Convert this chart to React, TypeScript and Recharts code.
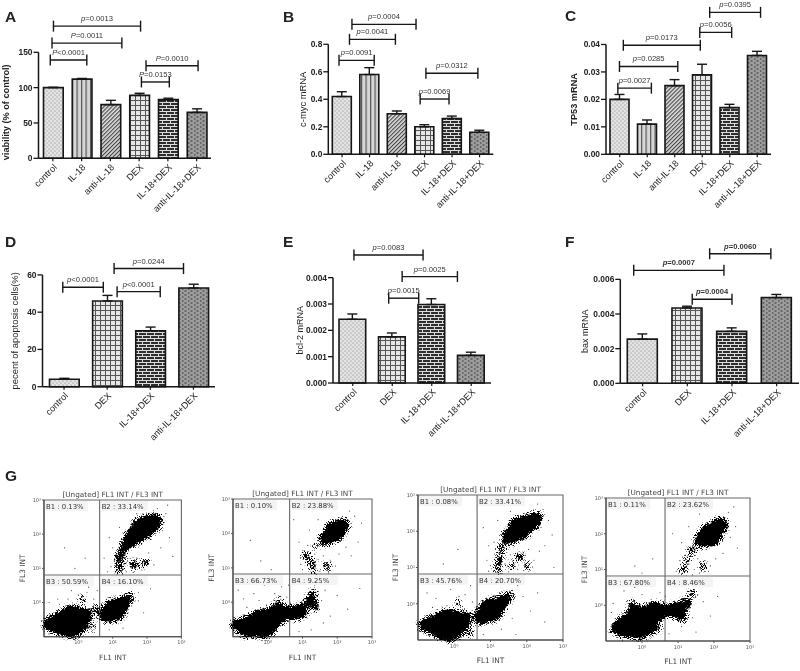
import React from "react";
import {
  Bar,
  BarChart,
  Cell,
  ErrorBar,
  ReferenceArea,
  ReferenceDot,
  ReferenceLine,
  Scatter,
  ScatterChart,
  XAxis,
  YAxis,
} from "recharts";

const FONT = "'Liberation Sans', Arial, sans-serif";
const FLOW_FONT = "'DejaVu Sans', sans-serif";
const INK = "#161616";

const patternByCategory: Record<string, string> = {
  control: "url(#dots)",
  "IL-18": "url(#stripes)",
  "anti-IL-18": "url(#diagonal)",
  DEX: "url(#grid)",
  "IL-18+DEX": "url(#brick)",
  "anti-IL-18+DEX": "url(#denseBrick)",
};

// bar panels
const sixGroups = ["control", "IL-18", "anti-IL-18", "DEX", "IL-18+DEX", "anti-IL-18+DEX"];
const fourGroups = ["control", "DEX", "IL-18+DEX", "anti-IL-18+DEX"];

const viability = [100, 112, 76, 89, 83, 65];
const viabilityErr = [0.5, 1, 6, 3, 2, 5];
const viabilityTicks = [0, 50, 100, 150];
const viabilityBrackets = [
  { from: 0.02, to: 3.05, y: 187, text: "=0.0013", p: "p" },
  { from: -0.03, to: 2.4, y: 163, text: "=0.0011", p: "P" },
  { from: -0.09, to: 1.18, y: 139, text: "<0.0001", p: "P" },
  { from: 3.24, to: 5.05, y: 131, text: "=0.0010", p: "P" },
  { from: 3.08, to: 4.05, y: 108, text: "=0.0153", p: "P" },
];

const cmyc = [0.42, 0.58, 0.295, 0.2, 0.26, 0.16];
const cmycErr = [0.035, 0.05, 0.02, 0.015, 0.018, 0.015];
const cmycTicks = [0, 0.2, 0.4, 0.6, 0.8];
const cmycBrackets = [
  { from: 0.36, to: 2.69, y: 0.945, text: "=0.0004", p: "p" },
  { from: 0.27, to: 1.94, y: 0.836, text: "=0.0041", p: "p" },
  { from: -0.11, to: 1.17, y: 0.683, text: "=0.0091", p: "p" },
  { from: 3.05, to: 4.94, y: 0.589, text: "=0.0312", p: "p" },
  { from: 2.84, to: 3.89, y: 0.402, text: "=0.0069", p: "p" },
];

const tp53 = [0.02, 0.011, 0.025, 0.029, 0.017, 0.036];
const tp53Err = [0.0018, 0.0015, 0.0022, 0.0038, 0.0012, 0.0015];
const tp53Ticks = [0, 0.01, 0.02, 0.03, 0.04];
const tp53Brackets = [
  { from: 3.27, to: 5.12, y: 0.0517, text: "=0.0395", p: "p" },
  { from: 2.91, to: 4.07, y: 0.0444, text: "=0.0056", p: "p" },
  { from: 0.13, to: 2.93, y: 0.0397, text: "=0.0173", p: "p" },
  { from: -0.01, to: 2.11, y: 0.032, text: "=0.0285", p: "p" },
  { from: -0.07, to: 1.15, y: 0.0241, text: "=0.0027", p: "p" },
];

const apoptosis = [4, 46, 30, 53];
const apoptosisErr = [0.5, 3, 2, 2];
const apoptosisTicks = [0, 20, 40, 60];
const apoptosisBrackets = [
  { from: 1.16, to: 2.77, y: 63.4, text: "=0.0244", p: "p" },
  { from: -0.03, to: 0.91, y: 53.4, text: "<0.0001", p: "p" },
  { from: 1.23, to: 2.23, y: 51, text: "<0.0001", p: "p" },
];

const bcl2 = [0.00242, 0.00175, 0.00298, 0.00105];
const bcl2Err = [0.0002, 0.00015, 0.00022, 0.00012];
const bcl2Ticks = [0, 0.001, 0.002, 0.003, 0.004];
const bcl2Brackets = [
  { from: 0.03, to: 1.78, y: 0.00486, text: "=0.0083", p: "p" },
  { from: 1.25, to: 2.65, y: 0.00404, text: "=0.0025", p: "p" },
  { from: 0.91, to: 1.67, y: 0.00322, text: "=0.0015", p: "p" },
];

const bax = [0.00255, 0.00435, 0.003, 0.00495];
const baxErr = [0.0003, 0.0001, 0.0002, 0.00018];
const baxTicks = [0, 0.002, 0.004, 0.006];
const baxBrackets = [
  { from: 1.5, to: 2.87, y: 0.00748, text: "=0.0060", p: "p" },
  { from: -0.2, to: 1.82, y: 0.00652, text: "=0.0007", p: "p" },
  { from: 1.11, to: 2.0, y: 0.00485, text: "=0.0004", p: "p" },
];

// flow cytometry panels, all in log10 units: [FL1, FL3, spread in decades]
const flow1Cloud = [
  [-0.2, -0.56, 0.44], [-0.59, -0.61, 0.28], [0.14, -0.41, 0.24], [-0.83, -0.63, 0.18], [-0.2, -0.85, 0.15],
  [1.06, -0.22, 0.31], [0.82, -0.37, 0.2], [1.35, 0.02, 0.17], [1.51, 0.19, 0.09],
  [1.88, 2.17, 0.31], [1.59, 1.91, 0.24], [2.13, 2.32, 0.26], [2.27, 2.43, 0.15], [1.35, 1.63, 0.13],
  [1.2, 1.25, 0.12], [1.6, 1.1, 0.12], [1.95, 1.15, 0.1], [1.2, 0.98, 0.1], [1.25, 1.45, 0.09],
  [0.5, -0.2, 0.1], [0.4, -0.75, 0.08], [0.1, 0.1, 0.08],
];
const flow1Dots = [
  [1.1, 1.4], [1.2, 1.55], [1.05, 1.2], [0.95, 1.05], [1.3, 1.3], [1.15, 0.95], [1.5, 1.15], [1.65, 1.0], [1.7, 1.3],
  [1.85, 0.95], [1.95, 1.2], [2.05, 1.45], [2.2, 1.1], [2.4, 1.6], [1.4, 0.9], [1.6, 0.88], [0.85, 0.9], [1.0, 1.6],
  [2.55, 2.6], [2.65, 1.9], [2.75, 1.35], [2.3, 2.75], [2.6, 2.85], [2.45, 2.1], [1.7, 2.6], [1.2, 2.2], [0.9, 1.9],
  [0.75, 1.3], [-0.1, 1.0], [-0.4, 1.6], [0.2, 1.3], [1.75, 0.3], [1.9, -0.3], [2.1, 0.4], [0.3, 0.45], [-0.2, 0.35],
  [-0.6, 0.1], [0.1, 0.15], [-0.7, 0.5], [0.45, 0.1], [1.6, 0.55], [1.45, -0.3], [0.5, -0.75], [0.9, -0.8], [1.3, -0.75],
  [-0.85, 0.0], [-0.5, 0.55], [0.55, 0.35], [-0.3, 0.1], [-0.55, -0.05], [0.25, 0.3], [1.75, 0.05], [1.55, -0.1],
];

const flow2Cloud = [
  [-0.13, -0.61, 0.4], [-0.57, -0.71, 0.3], [0.25, -0.37, 0.29], [-0.9, -0.66, 0.14], [0.54, -0.27, 0.16],
  [0.92, -0.27, 0.21], [1.21, 0.02, 0.15], [0.73, -0.37, 0.14],
  [1.93, 2.06, 0.28], [1.69, 1.86, 0.19], [2.17, 2.25, 0.17], [1.4, 1.62, 0.08],
  [1.26, 1.14, 0.1], [1.1, 1.35, 0.1], [1.7, 1.05, 0.1], [1.35, 0.9, 0.08], [1.3, 0.25, 0.1], [1.4, -0.15, 0.09],
  [0.35, 0.05, 0.08],
];
const flow2Dots = [
  [1.05, 1.5], [1.15, 1.65], [0.95, 1.1], [1.0, 0.95], [1.35, 1.4], [1.45, 1.25], [1.6, 1.35], [1.8, 1.2], [1.95, 1.05],
  [1.5, 0.9], [1.75, 0.85], [2.05, 1.4], [2.25, 1.6], [2.4, 1.35], [2.6, 1.75], [2.5, 2.5], [2.7, 2.3], [2.35, 2.65],
  [1.2, 2.1], [1.45, 2.4], [0.9, 1.75], [0.75, 2.4], [-0.2, 1.2], [0.1, 0.95], [-0.5, 1.8], [2.0, 0.2], [1.8, -0.4],
  [1.65, 0.35], [1.5, 0.6], [1.35, 0.5], [1.2, 0.6], [0.4, 0.45], [-0.1, 0.5], [-0.4, 0.25], [-0.7, 0.1], [0.2, 0.25],
  [-0.85, 0.35], [0.6, 0.5], [0.85, 0.55], [1.6, -0.6], [0.9, -0.85], [1.25, -0.8], [2.3, -0.2], [2.65, 0.4],
  [-0.25, 0.05], [-0.6, -0.15], [0.55, 0.15], [1.55, 0.05],
];

const flow3Cloud = [
  [-0.17, -0.59, 0.43], [-0.59, -0.59, 0.25], [0.24, -0.45, 0.22], [-0.86, -0.59, 0.12],
  [1.02, -0.17, 0.31], [0.75, -0.36, 0.2], [1.34, 0.06, 0.18], [1.53, 0.24, 0.09],
  [1.8, 2.08, 0.3], [1.53, 1.85, 0.2], [2.13, 2.26, 0.22], [2.31, 2.4, 0.11], [1.3, 1.53, 0.1], [1.25, 1.21, 0.1],
  [1.2, 0.95, 0.09], [1.8, 1.3, 0.1], [2.0, 1.05, 0.09], [1.55, 1.05, 0.08],
  [0.4, -0.8, 0.09], [0.15, 0.05, 0.08],
];
const flow3Dots = [
  [0.9, 1.2], [1.0, 1.05], [0.95, 0.9], [1.4, 1.1], [1.55, 1.35], [1.65, 1.1], [1.75, 0.95], [1.9, 1.4], [2.05, 1.5],
  [2.2, 1.2], [2.35, 1.45], [2.5, 1.6], [1.5, 0.88], [1.1, 1.7], [0.95, 1.6], [2.45, 2.6], [2.6, 2.3], [2.3, 2.75],
  [2.7, 1.9], [2.75, 1.0], [1.2, 2.3], [1.55, 2.55], [0.8, 2.1], [-0.3, 1.1], [0.1, 1.5], [1.75, 0.5], [1.9, 0.2],
  [2.1, -0.2], [2.3, 0.3], [0.3, 0.25], [-0.1, 0.4], [-0.5, 0.15], [-0.75, 0.3], [0.5, 0.05], [-0.3, 0.6],
  [1.6, -0.4], [1.3, -0.7], [0.8, -0.85], [1.7, -0.85], [0.45, 0.5], [2.5, -0.5], [-0.2, -0.05], [-0.6, -0.1],
];

const flow4Cloud = [
  [-0.06, -0.47, 0.44], [-0.47, -0.61, 0.29], [0.36, -0.19, 0.28], [-0.75, -0.65, 0.12],
  [0.96, -0.14, 0.22], [0.69, -0.14, 0.13], [1.24, 0.05, 0.13],
  [1.89, 1.96, 0.3], [1.66, 1.82, 0.19], [2.17, 2.24, 0.2], [1.38, 1.54, 0.1],
  [1.15, 1.0, 0.09], [1.7, 1.1, 0.09], [1.25, 1.25, 0.08], [1.4, 0.35, 0.09], [1.15, -0.35, 0.1],
  [-0.3, 0.05, 0.08], [0.45, -0.65, 0.08],
];
const flow4Dots = [
  [1.05, 1.25], [1.2, 1.4], [0.95, 0.95], [1.3, 1.15], [1.45, 1.0], [1.6, 0.9], [1.55, 1.3], [1.75, 1.25], [1.9, 1.1],
  [2.05, 1.3], [1.85, 0.95], [1.4, 0.85], [2.25, 1.45], [2.45, 1.9], [2.6, 2.2], [2.4, 2.6], [2.3, 2.45], [2.55, 2.75],
  [2.65, 1.6], [1.3, 2.2], [1.1, 1.75], [0.85, 2.0], [1.6, 2.55], [-0.2, 1.1], [0.3, 1.3], [0.0, 0.9], [1.45, 0.55],
  [1.55, 0.3], [1.7, 0.1], [1.9, -0.3], [2.1, 0.25], [-0.5, 0.4], [-0.8, 0.05], [-0.2, 0.5], [0.2, 0.55], [0.5, 0.35],
  [1.4, -0.35], [1.1, -0.6], [0.75, -0.8], [1.5, -0.75], [-0.85, -0.2], [0.0, 0.3], [0.65, 0.25],
];

const flowTicks = [0, 1, 2, 3];
const superscripts = ["\u2070", "\u00b9", "\u00b2", "\u00b3"];

function Patterns() {
  return (
    <svg width={0} height={0} style={{ position: "absolute" }}>
      <defs>
        <pattern id="dots" width={4} height={4} patternUnits="userSpaceOnUse">
          <rect width={4} height={4} fill="#e3e3e3" />
          <circle cx={1} cy={1} r={0.6} fill="#777" />
          <circle cx={3} cy={3} r={0.6} fill="#777" />
        </pattern>
        <pattern id="stripes" width={4.5} height={4} patternUnits="userSpaceOnUse">
          <rect width={4.5} height={4} fill="#d6d6d6" />
          <rect width={1.2} height={4} fill="#555" />
        </pattern>
        <pattern id="diagonal" width={2.8} height={2.8} patternUnits="userSpaceOnUse" patternTransform="rotate(45)">
          <rect width={2.8} height={2.8} fill="#dcdcdc" />
          <rect width={1.1} height={2.8} fill="#444" />
        </pattern>
        <pattern id="grid" width={5} height={5} patternUnits="userSpaceOnUse">
          <rect width={5} height={5} fill="#e6e6e6" />
          <rect width={1} height={5} fill="#555" />
          <rect width={5} height={1} fill="#555" />
        </pattern>
        <pattern id="brick" width={8} height={6} patternUnits="userSpaceOnUse">
          <rect width={8} height={6} fill="#2e2e2e" />
          <rect width={8} height={1} fill="#ddd" />
          <rect y={3} width={8} height={1} fill="#ddd" />
          <rect x={2} width={1} height={3} fill="#ddd" />
          <rect x={6} y={3} width={1} height={3} fill="#ddd" />
        </pattern>
        <pattern id="denseBrick" width={6} height={4} patternUnits="userSpaceOnUse">
          <rect width={6} height={4} fill="#666" />
          <rect x={0.5} y={0.5} width={4} height={1} fill="#d4d4d4" />
          <rect x={3.5} y={2.5} width={2.5} height={1} fill="#d4d4d4" />
          <rect x={0} y={2.5} width={2} height={1} fill="#d4d4d4" />
        </pattern>
        <filter id="grain" x="-20%" y="-20%" width="140%" height="140%">
          <feGaussianBlur in="SourceAlpha" stdDeviation="3" result="soft" />
          <feTurbulence type="fractalNoise" baseFrequency="0.95" numOctaves="2" seed="7" result="noise" />
          <feColorMatrix in="noise" type="matrix" values="0 0 0 0 0  0 0 0 0 0  0 0 0 0 0  3 0 0 0 -1" result="speck" />
          <feComposite in="soft" in2="speck" operator="arithmetic" k1="0" k2="1.9" k3="0.9" k4="-1" result="mix" />
          <feComponentTransfer in="mix">
            <feFuncA type="linear" slope="4" intercept="0" />
          </feComponentTransfer>
          <feGaussianBlur stdDeviation="0.25" />
        </filter>
      </defs>
    </svg>
  );
}

// line with end caps, p value written above it
function bracketShape(b: { p: string; text: string }, bold: boolean) {
  return (props: any) => {
    const { x1, x2, y1 } = props;
    return (
      <g stroke={INK} strokeWidth={1.4}>
        <line x1={x1} y1={y1} x2={x2} y2={y1} />
        <line x1={x1} y1={y1 - 5.5} x2={x1} y2={y1 + 5.5} />
        <line x1={x2} y1={y1 - 5.5} x2={x2} y2={y1 + 5.5} />
        <text
          x={(x1 + x2) / 2}
          y={y1 - 5}
          textAnchor="middle"
          stroke="none"
          fill="#333"
          fontSize={7.6}
          fontWeight={bold ? 700 : 400}
          fontFamily={FONT}
        >
          <tspan fontStyle="italic">{b.p}</tspan>
          {b.text}
        </text>
      </g>
    );
  };
}

function spineShape(label: string, gap: number, dy: number, style: any, stroke = INK, width = 1.5) {
  return (props: any) => {
    const { x1, y1, y2 } = props;
    const tx = x1 - gap;
    const ty = (y1 + y2) / 2 + dy;
    return (
      <g>
        <line x1={x1} y1={y1} x2={x1} y2={y2} stroke={stroke} strokeWidth={width} />
        <text x={tx} y={ty} transform={`rotate(-90 ${tx} ${ty})`} textAnchor="middle" dominantBaseline="central" {...style}>
          {label}
        </text>
      </g>
    );
  };
}

function BarPanel(props: {
  left: number;
  top: number;
  width: number;
  height: number;
  yWidth: number;
  xHeight: number;
  categories: string[];
  values: number[];
  errors: number[];
  ticks: number[];
  decimals: number;
  yTop: number;
  barSize: number;
  brackets: { from: number; to: number; y: number; text: string; p: string }[];
  yLabel: string;
  labelGap: number;
  labelDy?: number;
  labelSize: number;
  labelWeight: number;
  boldP?: boolean;
}) {
  const { categories, values, errors, ticks } = props;
  const data = categories.map((name, i) => ({ pos: i, name, value: values[i], err: [0, errors[i]] }));
  const last = categories.length - 0.5;
  const tickText = { fontSize: 8.4, fontWeight: 700, fontFamily: FONT, fill: "#222" };
  return (
    <div style={{ position: "absolute", left: props.left, top: props.top }}>
      <BarChart
        width={props.width}
        height={props.height}
        data={data}
        margin={{ top: 0, right: 1, bottom: 0, left: 0 }}
      >
        <XAxis
          dataKey="pos"
          type="number"
          domain={[-0.5, last]}
          ticks={categories.map((_, i) => i)}
          tickFormatter={(i: number) => categories[i]}
          interval={0}
          height={props.xHeight}
          axisLine={{ stroke: INK, strokeWidth: 1.5 }}
          tickLine={{ stroke: INK, strokeWidth: 1.2 }}
          tickSize={3}
          tickMargin={2}
          angle={-45}
          textAnchor="end"
          tick={{ fontSize: 9.2, fontFamily: FONT, fill: "#222", fontWeight: 400 }}
        />
        <YAxis
          type="number"
          domain={[0, props.yTop]}
          ticks={ticks}
          tickFormatter={(v: number) => v.toFixed(props.decimals)}
          interval={0}
          width={props.yWidth}
          axisLine={false}
          tickLine={{ stroke: INK, strokeWidth: 1.3 }}
          tickSize={5}
          tickMargin={1}
          tick={tickText}
        />
        <ReferenceLine
          segment={[
            { x: -0.5, y: 0 },
            { x: -0.5, y: ticks[ticks.length - 1] },
          ]}
          shape={spineShape(props.yLabel, props.labelGap, props.labelDy ?? 0, {
            fontSize: props.labelSize,
            fontWeight: props.labelWeight,
            fontFamily: FONT,
            fill: "#222",
          })}
        />
        <Bar dataKey="value" barSize={props.barSize} stroke={INK} strokeWidth={1.6} isAnimationActive={false}>
          {data.map((d) => (
            <Cell key={d.name} fill={patternByCategory[d.name]} />
          ))}
          <ErrorBar dataKey="err" direction="y" width={5} stroke={INK} strokeWidth={1.4} isAnimationActive={false} />
        </Bar>
        {props.brackets.map((b) => (
          <ReferenceLine
            key={`${b.from}-${b.to}`}
            segment={[
              { x: b.from, y: b.y },
              { x: b.to, y: b.y },
            ]}
            shape={bracketShape(b, !!props.boldP)}
          />
        ))}
      </BarChart>
    </div>
  );
}

function gateLabel(text: string, boxWidth: number) {
  return (props: any) => (
    <g>
      <rect x={props.cx + 1} y={props.cy + 1} width={boxWidth} height={10} fill="#f4f4f4" />
      <text x={props.cx + 2} y={props.cy + 9} fontSize={6.9} fontFamily={FLOW_FONT} fill="#333">
        {text}
      </text>
    </g>
  );
}

function cloudShape(pxPerDecade: number) {
  return (props: any) => <circle cx={props.cx} cy={props.cy} r={props.payload.spread * pxPerDecade} fill="#000" />;
}

function FlowPanel(props: {
  plotLeft: number;
  plotTop: number;
  plotWidth: number;
  plotHeight: number;
  gateX: number;
  gateY: number;
  cloud: number[][];
  dots: number[][];
  gates: string[];
  axisGap: number;
}) {
  const { gateX, gateY, gates } = props;
  const yw = 34;
  const marginTop = 12;
  const cloudData = props.cloud.map(([x, y, spread]) => ({ x, y, spread }));
  const dotData = props.dots.map(([x, y]) => ({ x, y }));
  const tick = { fontSize: 5, fontFamily: FLOW_FONT, fill: "#555" };
  const frame = { stroke: "#666", strokeWidth: 1.1 };
  return (
    <div style={{ position: "absolute", left: props.plotLeft - yw, top: props.plotTop - marginTop }}>
      <ScatterChart
        width={props.plotWidth + yw + 6}
        height={props.plotHeight + marginTop + 30}
        margin={{ top: marginTop, right: 6, bottom: 0, left: 0 }}
      >
        <XAxis
          dataKey="x"
          type="number"
          domain={[-1, 3]}
          ticks={flowTicks}
          tickFormatter={(v: number) => `10${superscripts[v]}`}
          interval={0}
          height={30}
          axisLine={{ stroke: "#444", strokeWidth: 1.1 }}
          tickLine={{ stroke: "#555" }}
          tickSize={2}
          tickMargin={2}
          tick={tick}
          label={{ value: "FL1 INT", position: "insideBottom", offset: 7, fontSize: 7.4, fontFamily: FLOW_FONT, fill: "#444" }}
        />
        <YAxis
          dataKey="y"
          type="number"
          domain={[-1, 3]}
          ticks={flowTicks}
          tickFormatter={(v: number) => `10${superscripts[v]}`}
          interval={0}
          width={yw}
          axisLine={false}
          tickLine={{ stroke: "#555" }}
          tickSize={2}
          tickMargin={1}
          tick={tick}
        />
        <ReferenceArea
          x1={-1}
          x2={3}
          y1={-1}
          y2={3}
          fill="none"
          {...frame}
          label={{ value: "[Ungated] FL1 INT / FL3 INT", position: "top", offset: 3, fontSize: 7.3, fontFamily: FLOW_FONT, fill: "#444" }}
        />
        <ReferenceLine
          segment={[
            { x: -1, y: -1 },
            { x: -1, y: 3 },
          ]}
          shape={spineShape("FL3 INT", props.axisGap, 0, { fontSize: 7.4, fontFamily: FLOW_FONT, fill: "#444" }, "#444", 1.1)}
        />
        <Scatter
          data={cloudData}
          className="flow-cloud"
          shape={cloudShape(props.plotWidth / 4)}
          isAnimationActive={false}
        />
        <Scatter data={dotData} fill="#444" shape={(p: any) => <circle cx={p.cx} cy={p.cy} r={0.6} fill="#444" />} isAnimationActive={false} />
        <ReferenceLine segment={[{ x: gateX, y: -1 }, { x: gateX, y: 3 }]} {...frame} />
        <ReferenceLine segment={[{ x: -1, y: gateY }, { x: 3, y: gateY }]} {...frame} />
        <ReferenceDot x={-1} y={3} r={0} shape={gateLabel(gates[0], 43)} />
        <ReferenceDot x={gateX} y={3} r={0} shape={gateLabel(gates[1], 47)} />
        <ReferenceDot x={-1} y={gateY} r={0} shape={gateLabel(gates[2], 49)} />
        <ReferenceDot x={gateX} y={gateY} r={0} shape={gateLabel(gates[3], 47)} />
      </ScatterChart>
    </div>
  );
}

function Letter({ x, y, children }: { x: number; y: number; children: string }) {
  return (
    <div style={{ position: "absolute", left: x, top: y, fontFamily: FONT, fontSize: 15.5, fontWeight: 700, lineHeight: "16px", color: "#222" }}>
      {children}
    </div>
  );
}

export default function App() {
  return (
    <div style={{ position: "absolute", left: 0, top: 0, width: 800, height: 671, background: "#fff", overflow: "hidden", filter: "blur(0.35px)" }}>
      <Patterns />
      <style>{`.flow-cloud { filter: url(#grain); }`}</style>
      <Letter x={5} y={9}>A</Letter>
      <Letter x={283} y={9}>B</Letter>
      <Letter x={565} y={8}>C</Letter>
      <Letter x={5} y={234}>D</Letter>
      <Letter x={283} y={234}>E</Letter>
      <Letter x={565} y={234}>F</Letter>
      <Letter x={5} y={468}>G</Letter>

      <BarPanel left={0} top={0} width={212} height={215} yWidth={38.5} xHeight={56.7}
        categories={sixGroups} values={viability} errors={viabilityErr} ticks={viabilityTicks} decimals={0}
        yTop={224} barSize={19.7} brackets={viabilityBrackets} yLabel="viability (% of control)"
        labelGap={32} labelDy={7} labelSize={9.2} labelWeight={700} />
      <BarPanel left={280} top={0} width={214.3} height={215} yWidth={48.3} xHeight={60.7}
        categories={sixGroups} values={cmyc} errors={cmycErr} ticks={cmycTicks} decimals={1}
        yTop={1.122} barSize={19} brackets={cmycBrackets} yLabel="c-myc mRNA"
        labelGap={26} labelSize={9.4} labelWeight={400} />
      <BarPanel left={560} top={0} width={212} height={215} yWidth={46} xHeight={60.7}
        categories={sixGroups} values={tp53} errors={tp53Err} ticks={tp53Ticks} decimals={2}
        yTop={0.0562} barSize={19} brackets={tp53Brackets} yLabel="TP53 mRNA"
        labelGap={32} labelSize={9.2} labelWeight={700} />
      <BarPanel left={0} top={230} width={216} height={215} yWidth={42.5} xHeight={58.3}
        categories={fourGroups} values={apoptosis} errors={apoptosisErr} ticks={apoptosisTicks} decimals={0}
        yTop={84.1} barSize={29.7} brackets={apoptosisBrackets} yLabel="pecent of apoptosis cells(%)"
        labelGap={28} labelSize={9.4} labelWeight={400} />
      <BarPanel left={280} top={230} width={212} height={215} yWidth={53} xHeight={62}
        categories={fourGroups} values={bcl2} errors={bcl2Err} ticks={bcl2Ticks} decimals={3}
        yTop={0.00581} barSize={26.7} brackets={bcl2Brackets} yLabel="bcl-2 mRNA"
        labelGap={33} labelSize={9} labelWeight={400} />
      <BarPanel left={560} top={230} width={240} height={215} yWidth={60.3} xHeight={61.7}
        categories={fourGroups} values={bax} errors={baxErr} ticks={baxTicks} decimals={3}
        yTop={0.00885} barSize={30} brackets={baxBrackets} yLabel="bax mRNA"
        labelGap={35.7} labelSize={9} labelWeight={400} boldP />

      <FlowPanel plotLeft={44.3} plotTop={500} plotWidth={137.4} plotHeight={136.7} gateX={0.62} gateY={0.805}
        cloud={flow1Cloud} dots={flow1Dots} axisGap={21.6}
        gates={["B1 : 0.13%", "B2 : 33.14%", "B3 : 50.59%", "B4 : 16.10%"]} />
      <FlowPanel plotLeft={233.3} plotTop={499} plotWidth={139} plotHeight={137.7} gateX={0.63} gateY={0.82}
        cloud={flow2Cloud} dots={flow2Dots} axisGap={21.3}
        gates={["B1 : 0.10%", "B2 : 23.88%", "B3 : 66.73%", "B4 : 9.25%"]} />
      <FlowPanel plotLeft={418.3} plotTop={495} plotWidth={145} plotHeight={145} gateX={0.63} gateY={0.82}
        cloud={flow3Cloud} dots={flow3Dots} axisGap={22.3}
        gates={["B1 : 0.08%", "B2 : 33.41%", "B3 : 45.76%", "B4 : 20.70%"]} />
      <FlowPanel plotLeft={606} plotTop={497.7} plotWidth={144} plotHeight={143} gateX={0.64} gateY={0.82}
        cloud={flow4Cloud} dots={flow4Dots} axisGap={21.7}
        gates={["B1 : 0.11%", "B2 : 23.62%", "B3 : 67.80%", "B4 : 8.46%"]} />
    </div>
  );
}
